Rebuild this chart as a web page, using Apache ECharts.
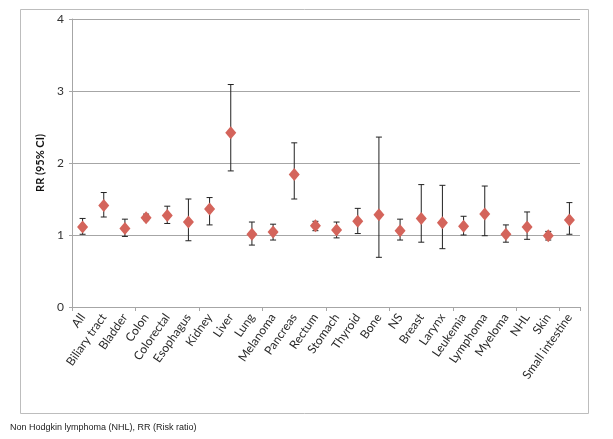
<!DOCTYPE html>
<html>
<head>
<meta charset="utf-8">
<script src="https://cdn.jsdelivr.net/npm/echarts@6/dist/echarts.min.js"></script>
<style>
html,body{margin:0;padding:0;background:#fff;}
#chart{width:613px;height:439px;}
</style>
</head>
<body>
<div id="chart"></div>
<script>
const categories = ["All","Biliary tract","Bladder","Colon","Colorectal","Esophagus","Kidney","Liver","Lung","Melanoma","Pancreas","Rectum","Stomach","Thyroid","Bone","NS","Breast","Larynx","Leukemia","Lymphoma","Myeloma","NHL","Skin","Small intestine"];
const rr    = [1.11,1.41,1.09,1.24,1.27,1.18,1.36,2.42,1.01,1.04,1.84,1.13,1.07,1.19,1.28,1.06,1.23,1.17,1.12,1.29,1.01,1.11,0.99,1.21];
const lower = [1.01,1.25,0.98,1.20,1.16,0.92,1.14,1.89,0.86,0.93,1.50,1.06,0.96,1.02,0.69,0.93,0.90,0.81,1.00,0.99,0.90,0.94,0.93,1.01];
const upper = [1.23,1.59,1.22,1.29,1.40,1.50,1.52,3.09,1.18,1.15,2.28,1.19,1.18,1.37,2.36,1.22,1.70,1.69,1.26,1.68,1.14,1.32,1.05,1.45];
const yTicks = [0,1,2,3,4];

const errData = categories.map((c,i)=>[i, lower[i], upper[i]]);

const chart = echarts.init(document.getElementById('chart'), null, {renderer:'canvas'});
chart.setOption({
  animation:false,
  backgroundColor:'#fff',
  grid:{left:72, right:33, top:19, bottom:132},
  xAxis:{
    type:'category',
    data:categories,
    boundaryGap:true,
    axisLine:{lineStyle:{color:'#a6a6a6', width:1}},
    axisTick:{show:true, interval:2, length:4, lineStyle:{color:'#a6a6a6'}},
    axisLabel:{interval:0, rotate:55, color:'#2a2a2a', fontFamily:'Lato', fontSize:12, margin:8}
  },
  yAxis:{
    type:'value', min:yTicks[0], max:yTicks[yTicks.length-1], interval:1,
    name:'RR (95% CI)', nameLocation:'middle', nameGap:26,
    nameTextStyle:{fontFamily:'Lato', fontWeight:'bold', fontSize:11, color:'#111'},
    axisLine:{show:true, lineStyle:{color:'#a6a6a6'}},
    axisTick:{show:true, length:3, lineStyle:{color:'#a6a6a6'}},
    axisLabel:{color:'#333', fontFamily:'Lato', fontSize:12, margin:8},
    splitLine:{lineStyle:{color:'#a6a6a6', width:1}}
  },
  graphic:[
    {type:'rect', shape:{x:20.5, y:9.5, width:568, height:404}, style:{fill:null, stroke:'#bdbdbd', lineWidth:1}, z:-1},
    {type:'text', left:10, top:423, style:{text:'Non Hodgkin lymphoma (NHL), RR (Risk ratio)', font:'9px "Liberation Sans", Arial, sans-serif', fill:'#222'}}
  ],
  series:[
    {
      type:'custom',
      data:errData,
      z:2,
      renderItem:function(params, api){
        const x = api.value(0);
        const lo = api.coord([x, api.value(1)]);
        const hi = api.coord([x, api.value(2)]);
        const hw = 3;
        const st = {stroke:'#222', lineWidth:1};
        return {type:'group', children:[
          {type:'line', shape:{x1:lo[0], y1:lo[1], x2:hi[0], y2:hi[1]}, style:st},
          {type:'line', shape:{x1:lo[0]-hw, y1:lo[1], x2:lo[0]+hw, y2:lo[1]}, style:st},
          {type:'line', shape:{x1:hi[0]-hw, y1:hi[1], x2:hi[0]+hw, y2:hi[1]}, style:st}
        ]};
      }
    },
    {
      type:'scatter',
      data:rr,
      symbol:'diamond',
      symbolSize:[11,13],
      z:3,
      itemStyle:{color:'#d4645b', opacity:1}
    }
  ]
});
</script>
</body>
</html>
